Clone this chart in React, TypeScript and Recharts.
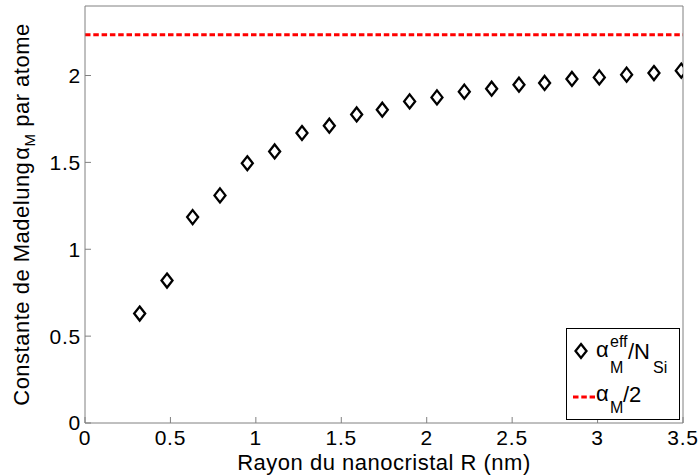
import React from 'react';
import { ScatterChart, Scatter, XAxis, YAxis, ReferenceLine } from 'recharts';

// rayon du nanocristal R (nm)
const radius = [
  0.32, 0.48, 0.63, 0.79, 0.95, 1.11, 1.27, 1.43, 1.59, 1.74, 1.9,
  2.06, 2.22, 2.38, 2.54, 2.69, 2.85, 3.01, 3.17, 3.33, 3.49,
];
// alpha_M^eff / N_Si
const madelungEff = [
  0.63, 0.82, 1.185, 1.31, 1.495, 1.563, 1.669, 1.711, 1.776, 1.803, 1.851,
  1.874, 1.907, 1.924, 1.947, 1.957, 1.98, 1.989, 2.005, 2.014, 2.028,
];
// alpha_M / 2
const halfAlphaM = 2.235;

const xTicks = [0, 0.5, 1, 1.5, 2, 2.5, 3, 3.5];
const yTicks = [0, 0.5, 1, 1.5, 2];

const points = radius.map((r, i) => ({ r, a: madelungEff[i] }));

const FONT = '"Liberation Sans", Arial, Helvetica, sans-serif';
const AXIS = '#808080';
const tickStyle = { fill: '#000', fontSize: 21, fontFamily: FONT, letterSpacing: 0.8 };

const Diamond = (props: any) => {
  const { cx, cy } = props;
  const w = 5.5;
  const h = 7;
  return (
    <path
      d={`M${cx},${cy - h} L${cx + w},${cy} L${cx},${cy + h} L${cx - w},${cy} Z`}
      fill="none"
      stroke="#000"
      strokeWidth={2.3}
    />
  );
};

const XTitle = (props: any) => {
  const { viewBox } = props;
  const cx = viewBox.x + viewBox.width / 2;
  return (
    <text x={cx} y={470} textAnchor="middle" fontSize={22} letterSpacing={0.5} fontFamily={FONT} fill="#000">
      Rayon du nanocristal R (nm)
    </text>
  );
};

const YTitle = (props: any) => {
  const { viewBox } = props;
  const cy = viewBox.y + viewBox.height / 2;
  const x = 29;
  return (
    <text
      x={x}
      y={cy}
      transform={`rotate(-90 ${x} ${cy})`}
      textAnchor="middle"
      fontSize={22}
      letterSpacing={0.5}
      fontFamily={FONT}
      fill="#000"
    >
      Constante de Madelung
      <tspan dx={2}>α</tspan>
      <tspan fontSize={15} dy={6}>M</tspan>
      <tspan dy={-6}> par atome</tspan>
    </text>
  );
};

const LegendBox = () => (
  <svg width={114} height={92} style={{ position: 'absolute', left: 566, top: 328 }}>
    <rect x={0.5} y={0.5} width={113} height={91} fill="#fff" stroke="#000" strokeWidth={1} />
    <g fontFamily={FONT} fill="#000">
      <Diamond cx={15} cy={23} />
      <text x={30} y={29} fontSize={22}>α</text>
      <text x={44} y={19} fontSize={16}>eff</text>
      <text x={44} y={45} fontSize={16}>M</text>
      <text x={62} y={31} fontSize={22}>/N</text>
      <text x={87} y={45} fontSize={16}>Si</text>
      <line x1={7} x2={29} y1={69} y2={69} stroke="#ff0000" strokeWidth={3} strokeDasharray="5.5 2.8" />
      <text x={30} y={73} fontSize={22}>α</text>
      <text x={44} y={85} fontSize={16}>M</text>
      <text x={57} y={74} fontSize={22}>/2</text>
    </g>
  </svg>
);

export default function App() {
  return (
    <div style={{ position: 'absolute', left: 0, top: 0, width: 700, height: 476, background: '#fff' }}>
      <ScatterChart
        width={700}
        height={476}
        margin={{ top: 0, right: 0, bottom: 0, left: 0 }}
        style={{ fontFamily: FONT }}
      >
        <XAxis
          xAxisId="b"
          type="number"
          dataKey="r"
          orientation="bottom"
          domain={[0, 3.5]}
          ticks={xTicks}
          allowDataOverflow
          height={53}
          stroke={AXIS}
          tickSize={-6}
          tickMargin={13}
          tick={tickStyle}
          label={<XTitle />}
        />
        <XAxis
          xAxisId="t"
          type="number"
          orientation="top"
          domain={[0, 3.5]}
          ticks={xTicks}
          allowDataOverflow
          height={6}
          stroke={AXIS}
          tickSize={-6}
          tick={false}
        />
        <YAxis
          yAxisId="l"
          type="number"
          dataKey="a"
          orientation="left"
          domain={[0, 2.4]}
          ticks={yTicks}
          allowDataOverflow
          width={85}
          stroke={AXIS}
          tickSize={-6}
          tickMargin={10}
          tick={tickStyle}
          label={<YTitle />}
        />
        <YAxis
          yAxisId="r"
          type="number"
          orientation="right"
          domain={[0, 2.4]}
          ticks={yTicks}
          allowDataOverflow
          width={17}
          stroke={AXIS}
          tickSize={-6}
          tick={false}
        />
        <ReferenceLine
          xAxisId="b"
          yAxisId="l"
          y={halfAlphaM}
          stroke="#ff0000"
          strokeWidth={3}
          strokeDasharray="5.5 2.8"
        />
        <Scatter
          xAxisId="b"
          yAxisId="l"
          data={points}
          shape={<Diamond />}
          isAnimationActive={false}
        />
      </ScatterChart>
      <LegendBox />
    </div>
  );
}
